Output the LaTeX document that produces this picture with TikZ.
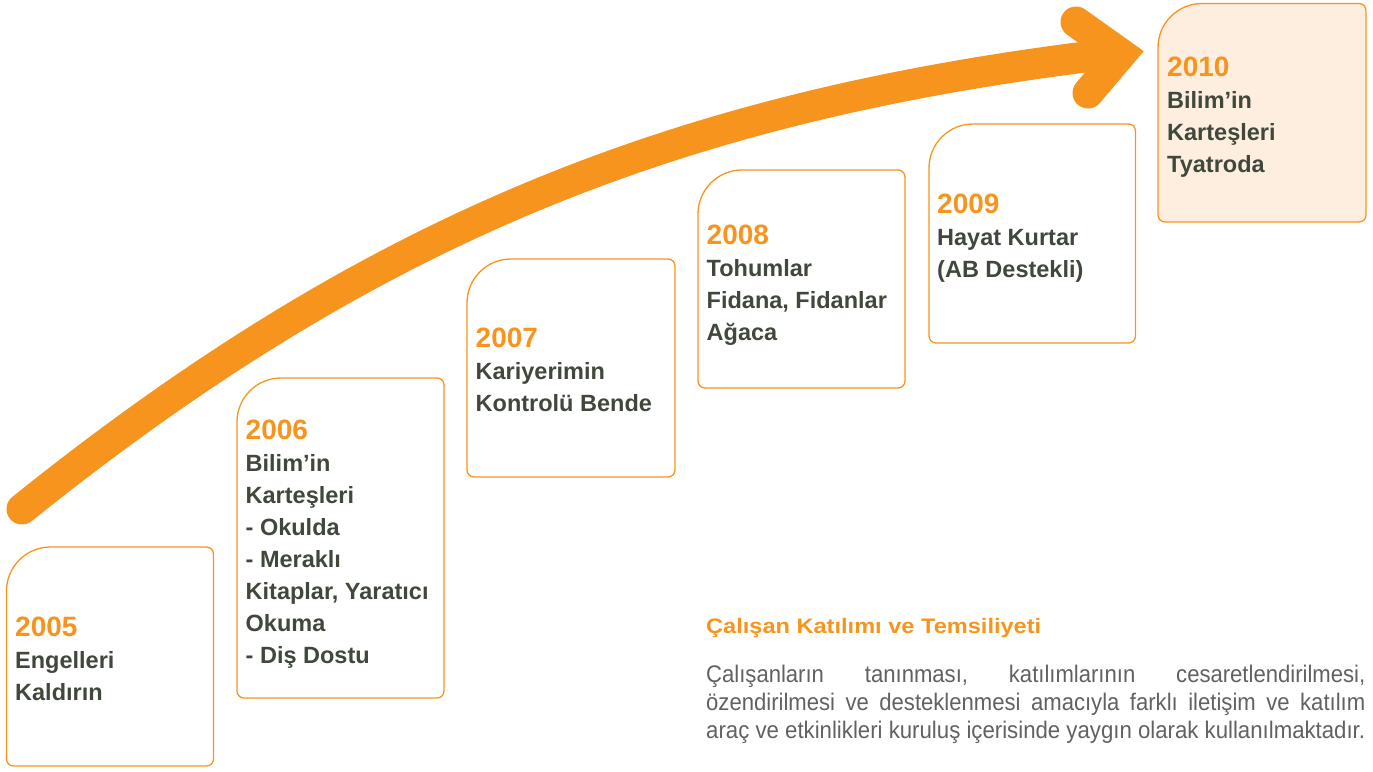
\documentclass[tikz,border=0pt]{standalone}
\usepackage{fontspec}
\setmainfont{Liberation Sans}
\usepackage{graphicx}
\definecolor{orng}{RGB}{247,148,29}
\definecolor{txt}{RGB}{64,72,60}
\definecolor{para}{RGB}{96,97,99}
\definecolor{peach}{RGB}{253,238,224}
\newcommand\rbox[5]{%
  \draw[boxline,#5] (#1,#2+44) .. controls (#1,#2+19.7) and (#1+19.7,#2) .. (#1+44,#2)
    -- (#3-7,#2) .. controls (#3-3.1,#2) and (#3,#2+3.1) .. (#3,#2+7)
    -- (#3,#4-7) .. controls (#3,#4-3.1) and (#3-3.1,#4) .. (#3-7,#4)
    -- (#1+7,#4) .. controls (#1+3.1,#4) and (#1,#4-3.1) .. (#1,#4-7) -- cycle;}
\newcommand\yearlines[4]{%
  \node[yr] (yr#3) at (#1,#2) {#3};
  \foreach \lbl [count=\i] in {#4} {\node[ln] (l#3-\i) at (#1,#2+32*\i) {\lbl};}}
\newcommand\hs[1]{\scalebox{0.92}[1]{#1}}
\begin{document}
\begin{tikzpicture}[x=1pt,y=-1pt,
  boxline/.style={draw=orng,line width=1.3pt},
  yr/.style={anchor=base west,inner sep=0pt,text=orng,font=\fontsize{28}{32}\selectfont\bfseries},
  ln/.style={anchor=base west,inner sep=0pt,text=txt,font=\fontsize{23.5}{32}\selectfont\bfseries},
  ttl/.style={anchor=base west,inner sep=0pt,text=orng,font=\fontsize{21}{28}\selectfont\bfseries},
  pl/.style={anchor=base west,inner sep=0pt,text=para,font=\fontsize{24}{28}\selectfont},
  arr/.style={draw=orng,line width=31pt}]
\useasboundingbox (0,0) rectangle (1373,771);
% boxes
\rbox{6.5}{547}{213.5}{766}{}
\rbox{237}{378}{444}{698}{}
\rbox{467}{259}{675}{477}{}
\rbox{698}{170}{905}{388}{}
\rbox{929}{124}{1135.5}{343}{}
\rbox{1158}{3.5}{1366}{222}{fill=peach}
% arrow
\draw[arr,line cap=round] (22,509) .. controls (372,228) and (680,104) .. (1118,53);
\draw[arr,line cap=round,line join=miter] (1076,22) -- (1121,54) -- (1088,93);
% texts
\yearlines{15}{636}{2005}{Engelleri,Kaldırın}
\yearlines{245.5}{439}{2006}{Bilim’in,Karteşleri,- Okulda,- Meraklı,{Kitaplar, Yaratıcı},Okuma,- Diş Dostu}
\yearlines{475.5}{347}{2007}{Kariyerimin,Kontrolü Bende}
\yearlines{706.5}{244}{2008}{Tohumlar,{Fidana, Fidanlar},Ağaca}
\yearlines{937}{213}{2009}{Hayat Kurtar,(AB Destekli)}
\yearlines{1167}{76}{2010}{Bilim’in,Karteşleri,Tyatroda}
% paragraph
\node[ttl] (title) at (706,633) {\resizebox{335pt}{\height}{Çalışan Katılımı ve Temsiliyeti}};
\node[pl] (p1) at (706,682) {\makebox[659pt][s]{\hs{Çalışanların} \hs{tanınması,} \hs{katılımlarının} \hs{cesaretlendirilmesi,}}};
\node[pl] (p2) at (706,710) {\makebox[659pt][s]{\hs{özendirilmesi} \hs{ve} \hs{desteklenmesi} \hs{amacıyla} \hs{farklı} \hs{iletişim} \hs{ve} \hs{katılım}}};
\node[pl] (p3) at (706,738) {\resizebox{659pt}{\height}{araç ve etkinlikleri kuruluş içerisinde yaygın olarak kullanılmaktadır.}};
\end{tikzpicture}
\end{document}
